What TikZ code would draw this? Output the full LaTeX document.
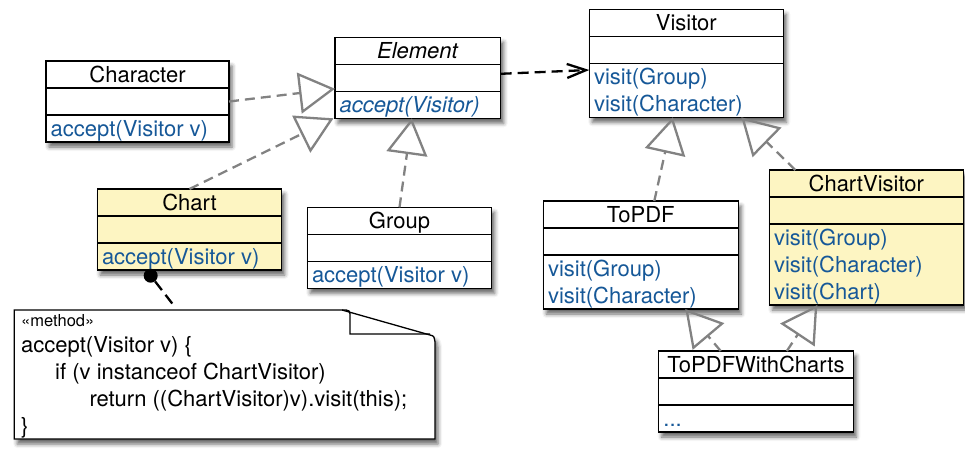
\documentclass[tikz,border=0pt]{standalone}
\usepackage{fontspec}
\setmainfont{TeX Gyre Heros}
\usetikzlibrary{arrows.meta,shadows.blur}
\definecolor{MethodBlue}{RGB}{22,88,152}
\definecolor{ChartYellow}{RGB}{253,245,194}
\definecolor{LinkGray}{RGB}{130,130,130}
\tikzset{
  ClassStyle/.style = {draw, line width=1.3pt, outer sep=0pt, inner sep=0pt,
    blur shadow={shadow xshift=3pt, shadow yshift=-5pt, shadow blur radius=4pt, shadow opacity=60}},
  RuleStyle/.style = {line width=1.3pt},
  TitleStyle/.style = {anchor=base, inner sep=0pt},
  MethodStyle/.style = {anchor=base west, inner sep=0pt, text=MethodBlue},
  RealizeStyle/.style = {draw=LinkGray, line width=2.3pt, dash pattern=on 10pt off 6pt,
    -{Triangle[open, length=36pt, width=41pt]}},
  DependStyle/.style = {draw=black, line width=2.3pt, dash pattern=on 11pt off 6pt,
    -{Straight Barb[length=19pt, width=14pt]}},
  NoteStyle/.style = {draw, fill=white, line width=1.3pt,
    blur shadow={shadow xshift=3pt, shadow yshift=-5pt, shadow blur radius=4pt, shadow opacity=60}},
  NoteText/.style = {anchor=base west, inner sep=0pt},
  BallStyle/.style = {circle, fill=black, inner sep=0pt, minimum size=14pt},
  LinkStyle/.style = {line width=2.3pt, dash pattern=on 11pt off 6pt, shorten >=5pt}
}
% [fill]{name}{north west}{width}{method rows}{title}{methods}
\newcommand{\UmlClass}[7][white]{%
  \node[ClassStyle, fill=#1, anchor=north west, minimum width=#4pt,
        minimum height={54pt+27pt*#5}] (#2) at (#3) {};
  \draw[RuleStyle] ([yshift=-27pt]#2.north west) -- ([yshift=-27pt]#2.north east)
    ([yshift=-54pt]#2.north west) -- ([yshift=-54pt]#2.north east);
  \node[TitleStyle] (#2-title) at ([yshift=-21pt]#2.north) {#6};
  \foreach \m [count=\i from 0] in {#7}
    \node[MethodStyle] (#2-m\i) at ([shift={(4.5pt,{-75pt-27pt*\i})}]#2.north west) {\m};
}

\begin{document}
\begin{tikzpicture}[x=1pt, y=-1pt, font=\fontsize{22}{27}\selectfont]
  \useasboundingbox (0,0) rectangle (965,458);

  \UmlClass{Element}{335,37.3}{165.7}{1}{\textit{Element}}{\textit{accept(Visitor)}}
  \UmlClass{Character}{46,61}{183}{1}{Character}{accept(Visitor v)}
  \UmlClass[ChartYellow]{Chart}{97.3,189}{184.4}{1}{Chart}{accept(Visitor v)}
  \UmlClass{Group}{307.3,207.3}{184.4}{1}{Group}{accept(Visitor v)}
  \UmlClass{Visitor}{589.3,9.3}{194}{2}{Visitor}{visit(Group), visit(Character)}
  \UmlClass{ToPDF}{543.3,201}{195}{2}{ToPDF}{visit(Group), visit(Character)}
  \UmlClass[ChartYellow]{ChartVisitor}{769.3,170}{194}{3}{ChartVisitor}{visit(Group), visit(Character), visit(Chart)}
  \UmlClass{ToPDFWithCharts}{658.7,351}{194.6}{1}{ToPDFWithCharts}{.\kern0pt.\kern0pt.}

  \draw[RealizeStyle] (Character.east) -- ([yshift=-11pt]Element.west);
  \draw[RealizeStyle] (Chart.north) -- ([xshift=-1.5pt]Element.south west);
  \draw[RealizeStyle] (Group.north) -- ([xshift=-6pt]Element.south);
  \draw[RealizeStyle] ([xshift=13.5pt]ToPDF.north) -- ([xshift=-13.5pt]Visitor.south);
  \draw[RealizeStyle] ([xshift=26pt]ChartVisitor.north west) -- ([xshift=55pt]Visitor.south);
  \draw[RealizeStyle] ([xshift=62pt]ToPDFWithCharts.north west) -- ([xshift=-53pt]ToPDF.south east);
  \draw[RealizeStyle] ([xshift=-66.5pt]ToPDFWithCharts.north east) -- ([xshift=48pt]ChartVisitor.south west);
  \draw[DependStyle] ([yshift=4pt]Element.east) -- ([yshift=-6.7pt]Visitor.west);

  \node[anchor=north west, minimum width=420.7pt, minimum height=129pt, inner sep=0pt, outer sep=0pt] (note) at (14.3,310) {};
  \draw[NoteStyle] (note.south west) -- (note.north west) -- ([xshift=-93pt]note.north east)
    -- ([shift={(-5,25)}]note.north east) .. controls ([shift={(-1,26)}]note.north east) .. ([shift={(0,32)}]note.north east)
    -- (note.south east) -- cycle;
  \draw[RuleStyle] ([xshift=-93pt]note.north east) .. controls ([shift={(-85,0)}]note.north east) .. ([shift={(-85,8)}]note.north east)
    -- ([shift={(-85,24)}]note.north east) -- ([shift={(-5,24)}]note.north east);
  \node[NoteText, font=\fontsize{16.5}{20}\selectfont] (stereo) at ([shift={(6.7,16)}]note.north west) {«method»};
  \node[NoteText] (line1) at ([shift={(6.7,42)}]note.north west) {accept(Visitor v) \{};
  \node[NoteText] (line2) at ([shift={(40.7,69)}]note.north west) {if (v instanceof ChartVisitor)};
  \node[NoteText] (line3) at ([shift={(75,96)}]note.north west) {return ((ChartVisitor)v).visit(this);};
  \node[NoteText] (line4) at ([shift={(6.7,123)}]note.north west) {\}};

  \node[BallStyle] (ball) at ([shift={(-38.8pt,-5.7pt)}]Chart.south) {};
  \draw[LinkStyle] (ball) -- ([xshift=-47.4pt]note.north);
\end{tikzpicture}
\end{document}
